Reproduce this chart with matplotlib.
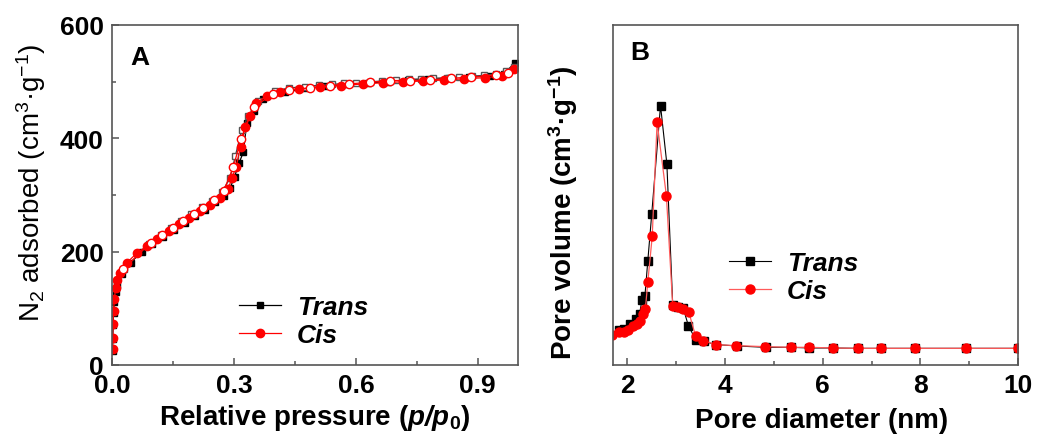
import matplotlib
matplotlib.use('Agg')
import matplotlib.pyplot as plt
import matplotlib.ticker as mticker

plt.rcParams['font.family'] = ['Liberation Sans', 'DejaVu Sans']
plt.rcParams['mathtext.fontset'] = 'custom'
plt.rcParams['mathtext.rm'] = 'Liberation Sans'
plt.rcParams['mathtext.it'] = 'Liberation Sans:italic'
plt.rcParams['mathtext.bf'] = 'Liberation Sans:bold'
plt.rcParams['mathtext.bfit'] = 'Liberation Sans:bold:italic'
plt.rcParams['mathtext.default'] = 'regular'

# ── N2 isotherms (relative pressure, adsorbed volume) ──
trans_ads_p = [0.0005, 0.001, 0.002, 0.003, 0.005, 0.008, 0.012, 0.025, 0.045, 0.072,
               0.098, 0.125, 0.152, 0.178, 0.203, 0.228, 0.252, 0.275, 0.29, 0.301,
               0.312, 0.323, 0.331, 0.349, 0.37, 0.426, 0.475, 0.525, 0.577, 0.63,
               0.68, 0.729, 0.778, 0.829, 0.879, 0.93, 0.965, 0.991]
trans_ads_v = [25, 45, 70, 92, 112, 128, 142, 160, 180, 200,
               213, 226, 239, 251, 263, 274, 287, 298, 312, 332,
               356, 376, 427, 449, 470, 481, 488, 492, 495, 498,
               500, 503, 504, 506, 508, 510, 514, 533]
trans_des_p = [0.99, 0.97, 0.945, 0.915, 0.885, 0.855, 0.825, 0.79, 0.76, 0.73,
               0.70, 0.665, 0.635, 0.60, 0.57, 0.54, 0.51, 0.475, 0.435, 0.40,
               0.36, 0.335, 0.319, 0.303, 0.29, 0.27, 0.245, 0.22, 0.195, 0.17,
               0.145, 0.12, 0.09, 0.03]
trans_des_v = [525, 518, 514, 511, 510, 508, 507, 506, 505, 504,
               503, 501, 500, 498, 497, 495, 494, 491, 489, 483,
               465, 440, 415, 369, 330, 305, 290, 278, 266, 254,
               242, 229, 214, 170]
cis_ads_p = [0.0005, 0.001, 0.002, 0.003, 0.005, 0.008, 0.012, 0.02, 0.035, 0.06,
             0.085, 0.11, 0.14, 0.165, 0.19, 0.215, 0.24, 0.265, 0.285, 0.295,
             0.305, 0.316, 0.327, 0.338, 0.355, 0.38, 0.413, 0.461, 0.512, 0.563,
             0.617, 0.667, 0.716, 0.765, 0.816, 0.866, 0.917, 0.96, 0.989]
cis_ads_v = [28, 48, 72, 95, 117, 135, 150, 163, 180, 197,
             210, 223, 236, 248, 260, 271, 283, 295, 310, 330,
             350, 385, 420, 440, 462, 475, 482, 487, 490, 493,
             496, 498, 500, 501, 503, 505, 507, 510, 523]
cis_des_p = [0.974, 0.946, 0.884, 0.834, 0.783, 0.734, 0.683, 0.634, 0.584, 0.535,
             0.486, 0.436, 0.396, 0.349, 0.317, 0.298, 0.274, 0.251, 0.224, 0.2,
             0.175, 0.149, 0.122, 0.095, 0.027]
cis_des_v = [516, 512, 508, 506, 503, 502, 502, 499, 496, 493,
             489, 486, 478, 456, 399, 349, 307, 292, 277, 266,
             254, 242, 229, 216, 169]

# ── pore size distribution (diameter nm, volume a.u.) ──
trans_d = [1.84, 1.94, 2.06, 2.17, 2.25, 2.30, 2.36, 2.42, 2.50, 2.68,
           2.81, 2.93, 3.04, 3.14, 3.25, 3.40, 3.56, 3.81, 4.24, 4.83,
           5.35, 5.73, 6.21, 6.72, 7.20, 7.90, 8.94, 9.99]
trans_pv = [0.104, 0.106, 0.120, 0.135, 0.149, 0.192, 0.202, 0.307, 0.444, 0.763,
            0.591, 0.177, 0.172, 0.169, 0.116, 0.074, 0.070, 0.060, 0.056, 0.052,
            0.052, 0.050, 0.050, 0.049, 0.049, 0.049, 0.049, 0.049]
cis_d = [1.69, 1.84, 1.94, 2.01, 2.12, 2.20, 2.27, 2.32, 2.37, 2.42,
         2.51, 2.61, 2.80, 2.93, 3.04, 3.14, 3.26, 3.40, 3.55, 3.81,
         4.23, 4.81, 5.36, 5.73, 6.21, 6.72, 7.20, 7.90, 8.94, 9.99]
cis_pv = [0.088, 0.098, 0.096, 0.104, 0.114, 0.121, 0.130, 0.150, 0.165, 0.245,
          0.378, 0.714, 0.498, 0.174, 0.170, 0.165, 0.155, 0.084, 0.072, 0.060,
          0.057, 0.054, 0.052, 0.052, 0.050, 0.049, 0.049, 0.049, 0.049, 0.049]

RED = '#ff0000'
SPINE = '#555555'
FS = 19


def style_axes(ax):
    for s in ax.spines.values():
        s.set_color(SPINE)
        s.set_linewidth(1.2)
    ax.tick_params(which='both', direction='in', top=False, right=False,
                   color=SPINE, width=1.1)
    ax.tick_params(which='major', length=5, pad=6, labelsize=FS)
    ax.tick_params(which='minor', length=3)
    for lab in ax.get_xticklabels() + ax.get_yticklabels():
        lab.set_fontweight('bold')


fig = plt.figure(figsize=(10.37, 4.39), dpi=100)
axA = fig.add_axes([0.1083, 0.1663, 0.3915, 0.7745])
axB = fig.add_axes([0.5908, 0.1663, 0.3909, 0.7745])

# panel A: isotherms
axA.plot(trans_ads_p, trans_ads_v, '-s', color='black', lw=0.9, ms=5,
         mfc='black', mec='black', label='Trans')
axA.plot(trans_des_p, trans_des_v, '-s', color='#444444', lw=0.9, ms=5,
         mfc='white', mec='#555555')
axA.plot(cis_ads_p, cis_ads_v, '-o', color=RED, lw=0.9, ms=6,
         mfc=RED, mec=RED, label='Cis')
axA.plot(cis_des_p, cis_des_v, '-o', color=RED, lw=0.9, ms=6,
         mfc='white', mec=RED, mew=1.0)

axA.set_xlim(0, 1.0)
axA.set_ylim(0, 600)
axA.xaxis.set_major_locator(mticker.MultipleLocator(0.3))
axA.xaxis.set_minor_locator(mticker.MultipleLocator(0.15))
axA.yaxis.set_major_locator(mticker.MultipleLocator(200))
axA.yaxis.set_minor_locator(mticker.MultipleLocator(100))
axA.xaxis.set_major_formatter(mticker.FormatStrFormatter('%.1f'))
style_axes(axA)
axA.set_xlabel(r'Relative pressure ($\mathbfit{p/p}_\mathbf{0}$)',
               fontsize=20, fontweight='bold')
axA.xaxis.set_label_coords(0.5, -0.11)
axA.set_ylabel('N$_2$ adsorbed (cm$^3$·g$^{-1}$)', fontsize=20)
axA.yaxis.set_label_coords(-0.158, 0.54)
axA.text(0.045, 0.905, 'A', transform=axA.transAxes, fontsize=FS,
         fontweight='bold', va='center')
axA.legend(loc='upper left', bbox_to_anchor=(0.253, 0.275), frameon=False,
           handlelength=1.6, handletextpad=0.6, labelspacing=0.15,
           prop={'size': FS, 'weight': 'bold', 'style': 'italic'})

# panel B: pore size distribution
axB.plot(trans_d, trans_pv, '-s', color='black', lw=0.8, ms=5.5,
         mfc='black', mec='black', label='Trans')
axB.plot(cis_d, cis_pv, '-o', color='#ff5a5a', lw=0.9, ms=6.5,
         mfc=RED, mec=RED, label='Cis')
axB.set_xlim(1.7, 10)
axB.set_ylim(0, 1)
axB.xaxis.set_major_locator(mticker.MultipleLocator(2))
axB.xaxis.set_minor_locator(mticker.MultipleLocator(1))
axB.set_yticks([])
style_axes(axB)
axB.set_xlabel('Pore diameter (nm)', fontsize=20, fontweight='bold')
axB.xaxis.set_label_coords(0.515, -0.125)
axB.set_ylabel(r'Pore volume (cm$^\mathbf{3}$·g$^\mathbf{-1}$)', fontsize=20,
               fontweight='bold')
axB.yaxis.set_label_coords(-0.08, 0.45)
axB.text(0.043, 0.92, 'B', transform=axB.transAxes, fontsize=FS,
         fontweight='bold', va='center')
axB.legend(loc='upper left', bbox_to_anchor=(0.228, 0.405), frameon=False,
           handlelength=1.6, handletextpad=0.6, labelspacing=0.15,
           prop={'size': FS, 'weight': 'bold', 'style': 'italic'})

fig.savefig('out.png', dpi=100)
plt.close()
